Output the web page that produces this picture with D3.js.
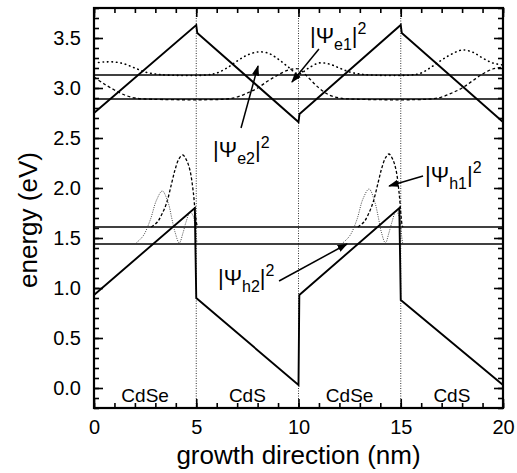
<!DOCTYPE html>
<html>
<head>
<meta charset="utf-8">
<script src="https://cdn.jsdelivr.net/npm/d3@7"></script>
<style>
  body { margin: 0; background: #fff; }
  svg { font-family: "Liberation Sans", Arial, Helvetica, sans-serif; }
</style>
</head>
<body>
<svg id="canvas" width="517" height="473"></svg>
<script>
(function() {

// conduction band edge (nm, eV)
var conduction = [[0,2.75],[5,3.63],[5.05,3.55],[10,2.66],[10.05,2.74],[15,3.63],[15.05,3.55],[20,2.66]];
// valence band edge
var valence = [[0,0.93],[4.93,1.80],[5.0,0.90],[10,0.03],[10.04,0.93],[14.93,1.80],[15.0,0.88],[20,0.03]];

// confined levels
var electronLevels = [2.89, 3.13];
var holeLevels = [1.44, 1.61];

// |psi e1|^2 (dashed, sits on 2.89)
var psiE1 = [[0,3.11],[0.5,3.04],[1,2.98],[1.5,2.93],[2,2.90],[2.5,2.89],[6.5,2.89],[7,2.91],[7.5,2.95],
  [8,3.00],[8.5,3.07],[9,3.13],[9.5,3.18],[10,3.19],[10.5,3.10],[11,3.00],[11.5,2.93],[12,2.90],[12.5,2.89],
  [16.5,2.89],[17,2.91],[17.5,2.95],[18,3.00],[18.5,3.07],[19,3.14],[19.5,3.19],[20,3.21]];
// |psi e2|^2 (dotted, sits on 3.13)
var psiE2 = [[0,3.25],[0.5,3.26],[1,3.26],[1.5,3.24],[2,3.20],[2.5,3.16],[3,3.14],[3.5,3.13],[5.5,3.13],
  [6,3.15],[6.5,3.20],[7,3.27],[7.5,3.33],[8,3.36],[8.5,3.35],[9,3.29],[9.5,3.21],[10,3.14],[10.5,3.20],
  [11,3.25],[11.5,3.24],[12,3.20],[12.5,3.16],[13,3.14],[13.5,3.13],[15.5,3.13],[16,3.15],[16.5,3.21],
  [17,3.28],[17.5,3.34],[18,3.38],[18.5,3.36],[19,3.30],[19.5,3.25],[20,3.23]];

// |psi h1|^2 (dashed, sits on 1.61), one hump per CdSe layer
var psiH1a = [[2.8,1.61],[3.1,1.66],[3.3,1.73],[3.55,1.85],[3.8,2.05],[3.96,2.18],[4.15,2.29],[4.34,2.33],
  [4.52,2.28],[4.69,2.18],[4.86,1.95],[4.97,1.71],[5.05,1.62],[5.1,1.61]];
var psiH1b = [[12.9,1.61],[13.2,1.66],[13.4,1.73],[13.65,1.86],[13.9,2.06],[14.06,2.19],[14.25,2.30],[14.42,2.34],
  [14.6,2.29],[14.77,2.18],[14.92,1.95],[15.02,1.71],[15.08,1.62],[15.12,1.61]];
// |psi h2|^2 (dotted, sits on 1.44)
var psiH2a = [[2.0,1.44],[2.4,1.52],[2.75,1.68],[3.06,1.88],[3.34,1.97],[3.63,1.85],[3.8,1.70],[3.96,1.56],
  [4.17,1.45],[4.35,1.55],[4.5,1.66],[4.7,1.76],[4.85,1.72],[4.94,1.63],[5.0,1.51],[5.05,1.44]];
var psiH2b = [[12.1,1.44],[12.5,1.52],[12.85,1.68],[13.15,1.89],[13.45,1.99],[13.73,1.86],[13.9,1.71],[14.05,1.56],
  [14.25,1.45],[14.42,1.55],[14.57,1.66],[14.77,1.77],[14.92,1.72],[15.0,1.63],[15.05,1.51],[15.1,1.44]];

// layer names
var layers = ["CdSe", "CdS", "CdSe", "CdS"];
var interfaces = [5, 10, 15];

var xTicks = [0, 5, 10, 15, 20];
var yTicks = [0.0, 0.5, 1.0, 1.5, 2.0, 2.5, 3.0, 3.5];

// annotations: label anchor and arrow (start -> tip) in data units
var notes = [
  {sub: "e1", lx: 10.56, ly: 3.45, from: [11.0, 3.39], to: [9.68, 3.06]},
  {sub: "e2", lx: 5.82, ly: 2.31, from: [7.19, 2.60], to: [8.02, 3.22]},
  {sub: "h1", lx: 16.19, ly: 2.06, from: [16.09, 2.12], to: [14.43, 2.02]},
  {sub: "h2", lx: 6.06, ly: 1.03, from: [9.05, 1.07], to: [12.37, 1.44]}
];

var width = 517, height = 473;
var margin = {top: 8, right: 14, bottom: 65, left: 94};
var w = width - margin.left - margin.right, h = height - margin.top - margin.bottom;

var svg = d3.select("#canvas");
var defs = svg.append("defs");
defs.append("marker").attr("id", "head")
  .attr("viewBox", "0 0 10 10").attr("refX", 9).attr("refY", 5)
  .attr("markerWidth", 7).attr("markerHeight", 7).attr("orient", "auto")
  .append("path").attr("d", "M0,1.5 L10,5 L0,8.5 Z").attr("fill", "#000");

var g = svg.append("g").attr("transform", "translate(" + margin.left + "," + margin.top + ")");

var x = d3.scaleLinear().domain([0, 20]).range([0, w]);
var y = d3.scaleLinear().domain([-0.2, 3.8]).range([h, 0]);

var line = d3.line().x(function(d) { return x(d[0]); }).y(function(d) { return y(d[1]); });
var smooth = d3.line().curve(d3.curveCatmullRom)
  .x(function(d) { return x(d[0]); }).y(function(d) { return y(d[1]); });

// interfaces (dotted verticals)
g.selectAll(".iface").data(interfaces).join("line")
  .attr("x1", function(d) { return x(d); }).attr("x2", function(d) { return x(d); })
  .attr("y1", 0).attr("y2", h)
  .attr("stroke", "#333").attr("stroke-width", 1).attr("stroke-dasharray", "1,1.5");

// level lines
g.selectAll(".level").data(electronLevels.concat(holeLevels)).join("line")
  .attr("x1", 0).attr("x2", w)
  .attr("y1", function(d) { return y(d); }).attr("y2", function(d) { return y(d); })
  .attr("stroke", "#000").attr("stroke-width", 1.6);

// wavefunctions
g.append("path").attr("d", smooth(psiE1)).attr("fill", "none").attr("stroke", "#000")
  .attr("stroke-width", 1.3).attr("stroke-dasharray", "3,2.5");
g.append("path").attr("d", smooth(psiE2)).attr("fill", "none").attr("stroke", "#000")
  .attr("stroke-width", 1.6).attr("stroke-dasharray", "0.5,4").attr("stroke-linecap", "round");
g.selectAll(".h1").data([psiH1a, psiH1b]).join("path")
  .attr("d", smooth).attr("fill", "none").attr("stroke", "#000")
  .attr("stroke-width", 1.3).attr("stroke-dasharray", "3,2");
g.selectAll(".h2").data([psiH2a, psiH2b]).join("path")
  .attr("d", smooth).attr("fill", "none").attr("stroke", "#444")
  .attr("stroke-width", 1).attr("stroke-dasharray", "1,1.3");

// band edges
g.append("path").attr("d", line(conduction)).attr("fill", "none").attr("stroke", "#000").attr("stroke-width", 1.9);
g.append("path").attr("d", line(valence)).attr("fill", "none").attr("stroke", "#000").attr("stroke-width", 1.9);

// layer labels
g.selectAll(".layer").data(layers).join("text")
  .attr("x", function(d, i) { return x(i * 5 + 2.5); })
  .attr("y", y(-0.135))
  .attr("text-anchor", "middle").attr("font-size", 19).text(function(d) { return d; });

// annotations
notes.forEach(function(n) {
  g.append("line")
    .attr("x1", x(n.from[0])).attr("y1", y(n.from[1]))
    .attr("x2", x(n.to[0])).attr("y2", y(n.to[1]))
    .attr("stroke", "#000").attr("stroke-width", 1.5).attr("marker-end", "url(#head)");
  var t = g.append("text").attr("x", x(n.lx)).attr("y", y(n.ly)).attr("font-size", 22);
  t.append("tspan").text("|\u03A8");
  t.append("tspan").attr("font-size", 16).attr("dy", 7).text(n.sub);
  t.append("tspan").attr("dy", -7).text("|");
  t.append("tspan").attr("font-size", 16).attr("dy", -9).text("2");
});

// axes, ticks inward on all four sides
var minorX = d3.range(0, 21, 1), minorY = d3.range(-0.2, 3.81, 0.1);
g.append("g").attr("transform", "translate(0," + h + ")")
  .call(d3.axisBottom(x).tickValues(minorX).tickSize(-5).tickFormat(""));
g.append("g").attr("transform", "translate(0," + h + ")")
  .call(d3.axisBottom(x).tickValues(xTicks).tickSize(-9).tickPadding(12).tickFormat(d3.format("d")));
g.append("g").call(d3.axisTop(x).tickValues(minorX).tickSize(-5).tickFormat(""));
g.append("g").call(d3.axisTop(x).tickValues(xTicks).tickSize(-9).tickFormat(""));
g.append("g").call(d3.axisLeft(y).tickValues(minorY).tickSize(-5).tickFormat(""));
g.append("g").call(d3.axisLeft(y).tickValues(yTicks).tickSize(-9).tickPadding(13).tickFormat(d3.format(".1f")));
g.append("g").attr("transform", "translate(" + w + ",0)").call(d3.axisRight(y).tickValues(minorY).tickSize(-5).tickFormat(""));
g.append("g").attr("transform", "translate(" + w + ",0)").call(d3.axisRight(y).tickValues(yTicks).tickSize(-9).tickFormat(""));

g.selectAll(".domain").remove();
g.selectAll(".tick line").attr("stroke", "#000").attr("stroke-width", 1.6);
g.selectAll(".tick text").attr("font-size", 20).attr("fill", "#000")
  .attr("font-family", "'Liberation Sans', Arial, sans-serif");

g.append("rect").attr("width", w).attr("height", h)
  .attr("fill", "none").attr("stroke", "#000").attr("stroke-width", 2.2);

// axis titles
svg.append("text").attr("x", margin.left + w / 2).attr("y", 464)
  .attr("text-anchor", "middle").attr("font-size", 26).text("growth direction (nm)");
svg.append("text").attr("transform", "translate(37,220) rotate(-90)")
  .attr("text-anchor", "middle").attr("font-size", 26).text("energy (eV)");

})();
</script>
</body>
</html>
